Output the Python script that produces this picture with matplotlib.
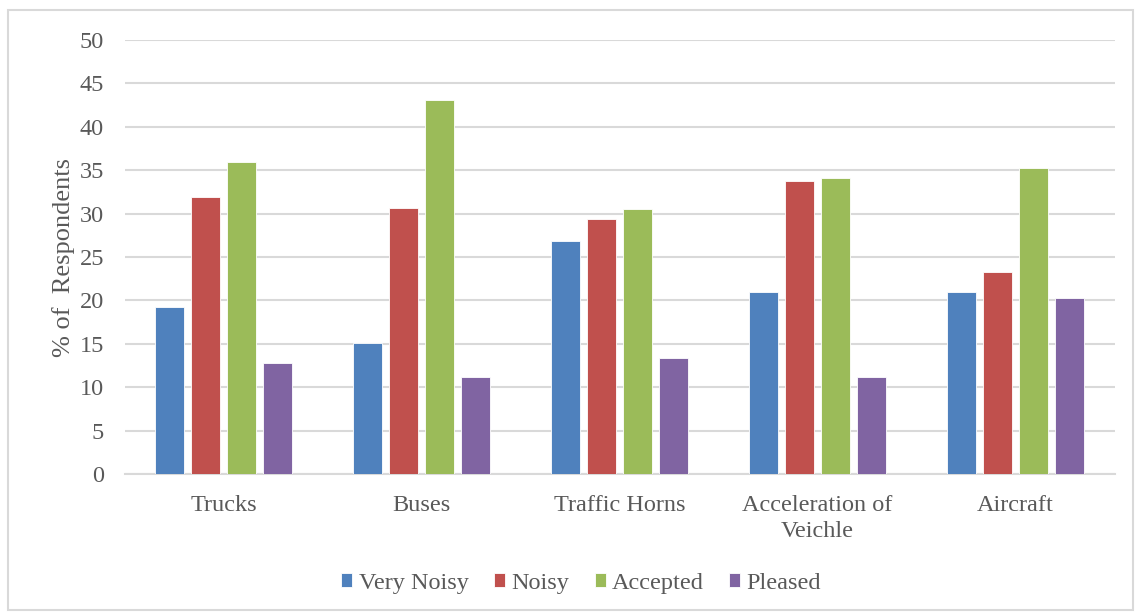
import numpy as np
import matplotlib.pyplot as plt
from matplotlib.patches import Rectangle

categories = ['Trucks', 'Buses', 'Traffic Horns', 'Acceleration of\nVeichle', 'Aircraft']
series = ['Very Noisy', 'Noisy', 'Accepted', 'Pleased']
very_noisy = [19.3, 15.1, 26.8, 21.0, 21.0]
noisy = [31.9, 30.6, 29.4, 33.8, 23.3]
accepted = [36.0, 43.1, 30.5, 34.1, 35.3]
pleased = [12.8, 11.2, 13.4, 11.2, 20.3]
colors = ['#4F81BD', '#C0504D', '#9BBB59', '#8064A2']

plt.rcParams['font.family'] = ['Liberation Serif', 'DejaVu Serif']
text_color = '#595959'

fig = plt.figure(figsize=(11.35, 6.12), dpi=100)
ax = fig.add_axes([0.110, 0.2255, 0.872, 0.709])

x = np.arange(len(categories))
step = 0.182
width = 0.146
for i, (name, vals) in enumerate(zip(series, [very_noisy, noisy, accepted, pleased])):
    ax.bar(x + (i - 1.5) * step, vals, width, color=colors[i], label=name,
           edgecolor='white', linewidth=0.6, zorder=3)

ax.set_xlim(-0.5, len(categories) - 0.5)
ax.set_ylim(0, 50)
ax.set_yticks(range(0, 51, 5))
ax.yaxis.grid(True, color='#d9d9d9', linewidth=1.5, zorder=0)
ax.set_axisbelow(True)
for side in ['top', 'right', 'left']:
    ax.spines[side].set_visible(False)
ax.spines['bottom'].set_color('#d9d9d9')
ax.spines['bottom'].set_linewidth(1.5)

ax.set_xticks(x)
ax.set_xticklabels(categories, fontsize=17.5, color=text_color, linespacing=1.35)
ax.tick_params(axis='x', length=0, pad=15)
ax.tick_params(axis='y', length=0, pad=15, labelsize=17.5, labelcolor=text_color)
ax.set_ylabel('% of  Respondents', fontsize=19, color=text_color, labelpad=3)

fig.legend(loc='center', bbox_to_anchor=(0.512, 0.047), ncol=4, frameon=False,
           fontsize=17.5, labelcolor=text_color, handlelength=0.46, handleheight=0.46,
           handletextpad=0.25, columnspacing=1.05)

# light frame around the whole figure
fig.patches.append(Rectangle((0.007, 0.003), 0.991, 0.98, transform=fig.transFigure,
                             fill=False, edgecolor='#d9d9d9', linewidth=1.5))

plt.savefig('out.png', dpi=100)
